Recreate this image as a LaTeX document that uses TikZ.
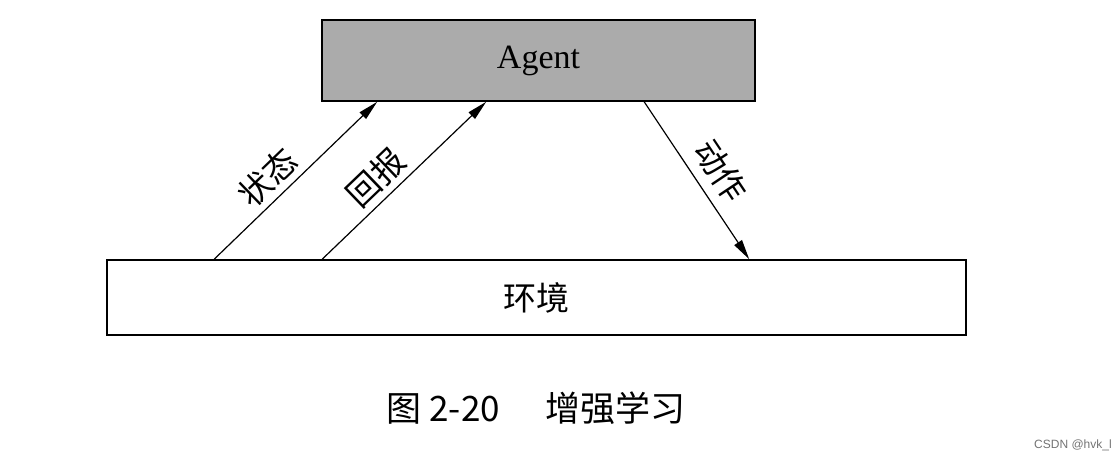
\documentclass[tikz,border=0pt]{standalone}
\usepackage{fontspec}
\setmainfont{Liberation Serif}
\setsansfont{Liberation Sans}
\newfontfamily\cjk{Noto Sans CJK SC}
\usetikzlibrary{calc,arrows.meta}
\tikzset{
  box/.style={draw,line width=0.8pt,inner sep=0pt},
  link/.style={line width=0.6pt,-{Triangle[length=10pt,width=4.5pt]}},
  tag/.style={sloped,above,inner sep=3pt,font=\cjk\fontsize{16.5}{16.5}\selectfont}
}
\begin{document}
\begin{tikzpicture}[x=0.5pt,y=0.5pt]
\useasboundingbox (0,0) rectangle (1120,461);
\node[box,fill=black!33,minimum width=216.5pt,minimum height=40.5pt,
  font=\fontsize{17}{17}\selectfont] (agent) at (538.5,400.5) {Agent};
\node[box,minimum width=429.5pt,minimum height=37.5pt,
  font=\cjk\fontsize{16.5}{16.5}\selectfont] (env) at (536.5,163.5) {环境};
\foreach \lab/\xa/\xb/\p in {状态/108/56/0.42, 回报/216/165/0.42}{
  \draw[link] ($(env.north west)+(\xa,0)$) -- node[tag,pos=\p] {\lab} ($(agent.south west)+(\xb,0)$);
}
\draw[link] ($(agent.south west)+(323,0)$) -- node[tag,pos=0.53,inner sep=5pt] {动作} ($(env.north west)+(643,0)$);
\node[font=\cjk\fontsize{17.5}{17.5}\selectfont] (cap) at (536,53) {图 2-20\hspace{1.3em}增强学习};
\node[font=\sffamily\fontsize{6}{6}\selectfont,text=black!55] (mark) at (1073,16) {CSDN @hvk\_l};
\end{tikzpicture}
\end{document}
